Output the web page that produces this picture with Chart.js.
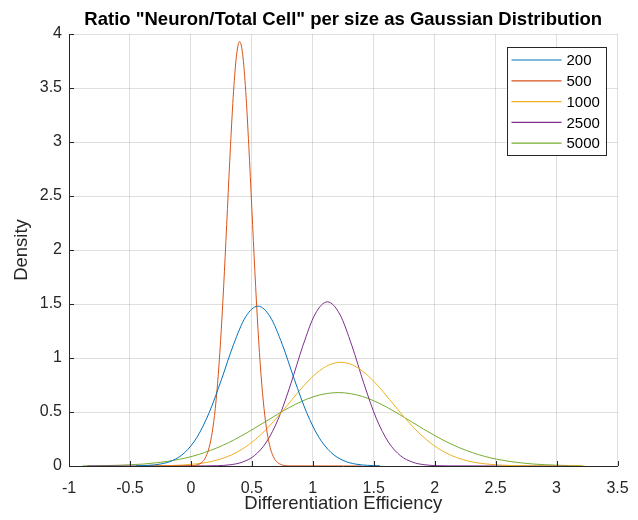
<!DOCTYPE html>
<html>
<head>
<meta charset="utf-8">
<script src="https://cdn.jsdelivr.net/npm/chart.js@4.4.1/dist/chart.umd.min.js"></script>
<style>
  html, body { margin: 0; padding: 0; background: #fff; }
  #wrap { width: 638px; height: 520px; }
</style>
</head>
<body>
<div id="wrap"><canvas id="chart" width="638" height="520"></canvas></div>
<script>
// Legend labels (colony size)
const sizeLabels = ["200", "500", "1000", "2500", "5000"];
const seriesColors = ["#0072BD", "#D95319", "#EDB120", "#7E2F8E", "#77AC30"];
const chartTitle = 'Ratio "Neuron/Total Cell" per size as Gaussian Distribution';

// Curves (x = efficiency, y = density)
const x200 = [-0.45, -0.35, -0.25, -0.15, -0.05, 0.05, 0.15, 0.25, 0.35, 0.45, 0.55,
  0.65, 0.75, 0.85, 0.95, 1.05, 1.15, 1.25, 1.35, 1.45, 1.55];
const y200 = [0.002, 0.006, 0.018, 0.051, 0.125, 0.266, 0.494, 0.798, 1.125, 1.382, 1.48,
  1.382, 1.125, 0.798, 0.494, 0.266, 0.125, 0.051, 0.018, 0.006, 0.002];

const x500 = [-0.4, 0.0, 0.05, 0.1, 0.125, 0.15, 0.175, 0.2, 0.225, 0.25, 0.275, 0.3, 0.325,
  0.35, 0.375, 0.4, 0.425, 0.45, 0.475, 0.5, 0.525, 0.55, 0.575, 0.6, 0.625, 0.65, 0.675,
  0.7, 0.75, 0.8, 1.4];
const y500 = [0, 0.001, 0.009, 0.044, 0.09, 0.173, 0.313, 0.532, 0.85, 1.276, 1.799, 2.384, 2.966,
  3.468, 3.809, 3.93, 3.809, 3.468, 2.966, 2.384, 1.799, 1.276, 0.85, 0.532, 0.313, 0.173, 0.09,
  0.044, 0.009, 0.001, 0];

const x1000 = [-0.37, -0.27, -0.17, -0.07, 0.03, 0.13, 0.23, 0.33, 0.43, 0.53, 0.63, 0.73,
  0.83, 0.93, 1.03, 1.13, 1.23, 1.33, 1.43, 1.53, 1.63, 1.73, 1.83, 1.93, 2.03, 2.13, 2.23,
  2.33, 2.43, 2.53, 2.63, 2.73, 2.83, 2.93, 3.03, 3.13, 3.23];
const y1000 = [0.001, 0.002, 0.004, 0.009, 0.018, 0.033, 0.06, 0.101, 0.162, 0.246, 0.353, 0.479,
  0.616, 0.748, 0.859, 0.934, 0.96, 0.934, 0.859, 0.748, 0.616, 0.479, 0.353, 0.246, 0.162,
  0.101, 0.06, 0.033, 0.018, 0.009, 0.004, 0.002, 0.001, 0, 0, 0, 0];

const x2500 = [-0.85, 0.12, 0.22, 0.32, 0.42, 0.52, 0.62, 0.72, 0.82, 0.92, 1.02, 1.12,
  1.22, 1.32, 1.42, 1.52, 1.62, 1.72, 1.82, 1.92, 2.02, 2.12, 3.1];
const y2500 = [0, 0.001, 0.003, 0.011, 0.035, 0.095, 0.222, 0.444, 0.761, 1.117, 1.408, 1.52,
  1.408, 1.117, 0.761, 0.444, 0.222, 0.095, 0.035, 0.011, 0.003, 0.001, 0];

const x5000 = [-0.89, -0.79, -0.69, -0.59, -0.49, -0.39, -0.29, -0.19, -0.09, 0.01, 0.11,
  0.21, 0.31, 0.41, 0.51, 0.61, 0.71, 0.81, 0.91, 1.01, 1.11, 1.21, 1.31, 1.41, 1.51, 1.61,
  1.71, 1.81, 1.91, 2.01, 2.11, 2.21, 2.31, 2.41, 2.51, 2.61, 2.71, 2.81, 2.91, 3.01, 3.11, 3.21];
const y5000 = [0.001, 0.002, 0.004, 0.007, 0.012, 0.018, 0.029, 0.043, 0.063, 0.089, 0.124,
  0.166, 0.217, 0.276, 0.341, 0.41, 0.478, 0.543, 0.599, 0.643, 0.67, 0.68, 0.67, 0.643, 0.599,
  0.543, 0.478, 0.41, 0.341, 0.276, 0.217, 0.166, 0.124, 0.089, 0.063, 0.043, 0.029, 0.018,
  0.012, 0.007, 0.004, 0.002];

const xTicks = { min: -1, max: 3.5, step: 0.5 };
const yTicks = { min: 0, max: 4, step: 0.5 };

const FONT = "'Liberation Sans', Arial, Helvetica, sans-serif";
const AXIS_COLOR = "#262626";

const xsList = [x200, x500, x1000, x2500, x5000];
const ysList = [y200, y500, y1000, y2500, y5000];

const datasets = sizeLabels.map((label, k) => ({
  label,
  data: xsList[k].map((x, i) => ({ x, y: ysList[k][i] })),
  borderColor: seriesColors[k],
  backgroundColor: seriesColors[k],
  borderWidth: 1,
  pointRadius: 0,
  fill: false,
  cubicInterpolationMode: "monotone",
}));

// title centred over the axes, like matlab does it
const axesTitle = {
  id: "axesTitle",
  afterDraw(chart) {
    const { ctx, chartArea } = chart;
    ctx.save();
    ctx.font = "bold 18.5px " + FONT;
    ctx.fillStyle = "#000";
    ctx.textAlign = "center";
    ctx.textBaseline = "alphabetic";
    ctx.fillText(chartTitle, (chartArea.left + chartArea.right) / 2, 25);
    ctx.restore();
  },
};

// MATLAB style: small ticks pointing into the plot
const innerTicks = {
  id: "innerTicks",
  afterDatasetsDraw(chart) {
    const { ctx, chartArea, scales } = chart;
    ctx.save();
    ctx.strokeStyle = AXIS_COLOR;
    ctx.lineWidth = 1;
    scales.x.ticks.forEach((t) => {
      const px = Math.round(scales.x.getPixelForValue(t.value)) + 0.5;
      ctx.beginPath();
      ctx.moveTo(px, chartArea.bottom);
      ctx.lineTo(px, chartArea.bottom - 5);
      ctx.stroke();
    });
    scales.y.ticks.forEach((t) => {
      const py = Math.round(scales.y.getPixelForValue(t.value)) + 0.5;
      ctx.beginPath();
      ctx.moveTo(chartArea.left, py);
      ctx.lineTo(chartArea.left + 5, py);
      ctx.stroke();
    });
    ctx.restore();
  },
};

// legend box in the upper right corner of the plot
const boxLegend = {
  id: "boxLegend",
  afterDraw(chart) {
    const { ctx, chartArea } = chart;
    const w = 99, rowH = 20.8;
    const h = 108;
    const left = chartArea.right - 12 - w;
    const top = chartArea.top + 13;
    ctx.save();
    ctx.fillStyle = "#fff";
    ctx.fillRect(left, top, w, h);
    ctx.strokeStyle = AXIS_COLOR;
    ctx.lineWidth = 1;
    ctx.strokeRect(Math.round(left) + 0.5, Math.round(top) + 0.5, w, h);
    ctx.font = "15px " + FONT;
    ctx.textBaseline = "middle";
    ctx.textAlign = "left";
    chart.data.datasets.forEach((ds, i) => {
      const y = top + 13 + i * rowH;
      ctx.strokeStyle = ds.borderColor;
      ctx.lineWidth = 1.2;
      ctx.beginPath();
      ctx.moveTo(left + 5, y);
      ctx.lineTo(left + 55, y);
      ctx.stroke();
      ctx.fillStyle = "#000";
      ctx.fillText(ds.label, left + 60, y + 1);
    });
    ctx.restore();
  },
};

new Chart(document.getElementById("chart"), {
  type: "line",
  data: { datasets },
  plugins: [innerTicks, boxLegend, axesTitle],
  options: {
    responsive: false,
    devicePixelRatio: 1,
    animation: false,
    layout: { padding: { left: 0, right: 0, top: 34, bottom: 0 } },
    plugins: {
      legend: { display: false },
      tooltip: { enabled: false },
      title: { display: false },
    },
    scales: {
      x: {
        type: "linear",
        min: xTicks.min,
        max: xTicks.max,
        afterFit: (s) => {
          s.height = 54;
          s.paddingLeft = 0;
          s.paddingRight = 20.5;
        },
        ticks: {
          stepSize: xTicks.step,
          color: AXIS_COLOR,
          font: { family: FONT, size: 16 },
          padding: 13,
          maxRotation: 0,
          callback: (v) => String(v),
        },
        grid: { color: "rgba(38,38,38,0.15)", drawTicks: false },
        border: { display: true, color: AXIS_COLOR, width: 1 },
        title: {
          display: true,
          text: "Differentiation Efficiency",
          color: AXIS_COLOR,
          font: { family: FONT, size: 18.5 },
          padding: { top: 0, bottom: 5 },
        },
      },
      y: {
        type: "linear",
        min: yTicks.min,
        max: yTicks.max,
        afterFit: (s) => { s.width = 69; },
        ticks: {
          stepSize: yTicks.step,
          color: AXIS_COLOR,
          font: { family: FONT, size: 16 },
          padding: 7,
          callback: (v) => String(v),
        },
        grid: { color: "rgba(38,38,38,0.15)", drawTicks: false },
        border: { display: true, color: AXIS_COLOR, width: 1 },
        title: {
          display: true,
          text: "Density",
          color: AXIS_COLOR,
          font: { family: FONT, size: 18.5 },
          padding: { top: 11, bottom: 0 },
        },
      },
    },
  },
});
</script>
</body>
</html>
